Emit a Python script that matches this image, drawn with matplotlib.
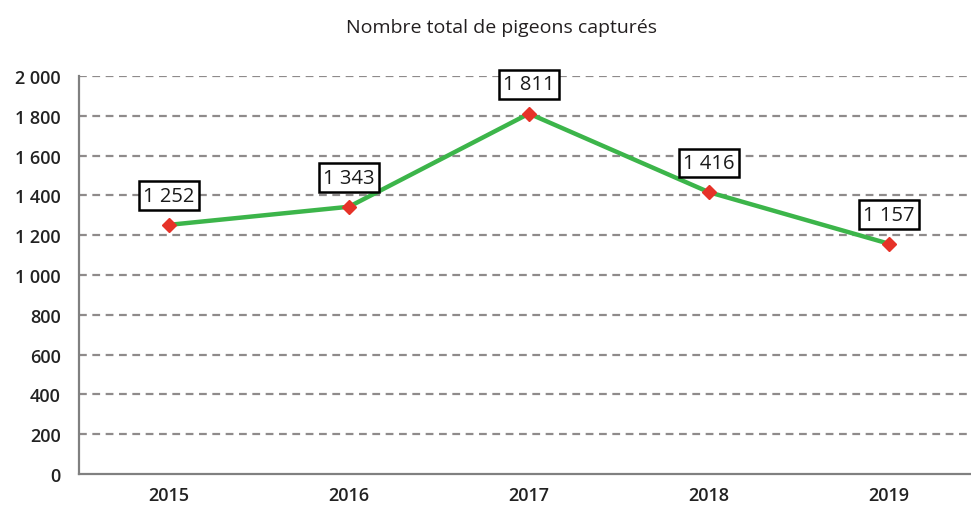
import matplotlib.pyplot as plt
from matplotlib.ticker import FixedLocator

# Données
annees = ["2015", "2016", "2017", "2018", "2019"]
pigeons = [1252, 1343, 1811, 1416, 1157]
graduations_y = [0, 200, 400, 600, 800, 1000, 1200, 1400, 1600, 1800, 2000]


def fmt_milliers(v):
    return f"{v:,.0f}".replace(",", " ")


plt.rcParams['font.family'] = ['Open Sans', 'DejaVu Sans']

fig = plt.figure(figsize=(9.71, 5.10), dpi=100)
ax = fig.add_axes([79 / 971, 35 / 510, 900 / 971, 398 / 510])

x = list(range(len(annees)))

# Grille pointillée
for v in graduations_y[1:]:
    ax.axhline(v, color='#8f8b8b', lw=1.6, ls=(0, (3.5, 2.5)), zorder=1)

ax.plot(x, pigeons, color='#3cb54a', lw=3.2, zorder=3,
        marker='D', markersize=7, markerfacecolor='#e63228',
        markeredgecolor='#e63228')

# Étiquettes encadrées
for xi, v in zip(x, pigeons):
    ax.annotate(fmt_milliers(v), (xi, v), xytext=(0, 21), textcoords='offset points',
                ha='center', va='center', fontsize=14.5, color='#1a1a1a', zorder=4,
                bbox=dict(boxstyle='square,pad=0.22', fc='white', ec='black', lw=1.8))

ax.set_xlim(-0.5, 4.5)
ax.set_ylim(0, 2000)
ax.set_xticks(x)
ax.set_xticklabels(annees)
ax.yaxis.set_major_locator(FixedLocator(graduations_y))
ax.set_yticklabels([fmt_milliers(v) for v in graduations_y])

for lab in ax.get_xticklabels() + ax.get_yticklabels():
    lab.set_fontweight('semibold')
    lab.set_fontsize(13)
    lab.set_color('#222222')

ax.tick_params(axis='both', length=0)
ax.tick_params(axis='y', pad=13)
ax.tick_params(axis='x', pad=9)

for s in ['top', 'right']:
    ax.spines[s].set_visible(False)
for s in ['left', 'bottom']:
    ax.spines[s].set_color('#808080')
    ax.spines[s].set_linewidth(1.6)

fig.text(501 / 971, 1 - 28 / 510, "Nombre total de pigeons capturés",
         ha='center', va='center', fontsize=14, fontweight='medium', color='#231f20')

fig.savefig('out.png', dpi=100)
